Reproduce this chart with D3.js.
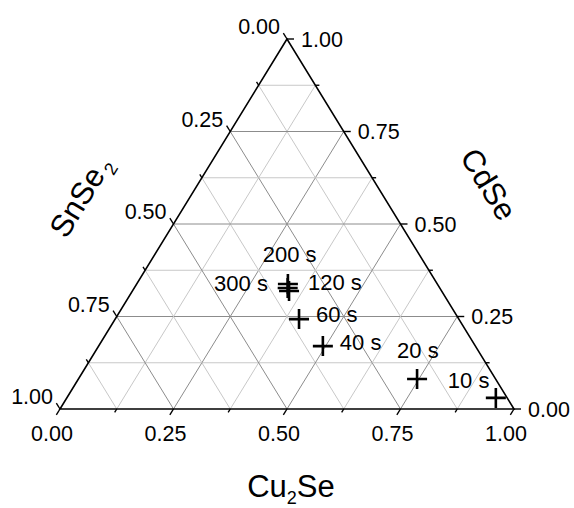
<!DOCTYPE html>
<html lang="en">
<head>
<meta charset="UTF-8">
<title>Ternary plot Cu2Se - CdSe - SnSe2</title>
<script src="https://d3js.org/d3.v7.min.js"></script>
<style>
    body { margin: 0; background: #fff; }
    text { font-family: Arial, "Liberation Sans", sans-serif; fill: #000; }
</style>
</head>
<body>
<svg width="574" height="508"></svg>
<script>
// sample labels (reaction time) and compositions (mole fractions)
const samples = ["10 s", "20 s", "40 s", "60 s", "120 s", "200 s", "300 s"];
const cu2se   = [0.945, 0.746, 0.494, 0.405, 0.345, 0.338, 0.333];
const cdse    = [0.030, 0.081, 0.170, 0.243, 0.319, 0.327, 0.338];
const snse2   = cu2se.map((a, i) => +(1 - a - cdse[i]).toFixed(3));

const tickValues = [0, 0.25, 0.5, 0.75, 1];
const gridValues = [0.125, 0.25, 0.375, 0.5, 0.625, 0.75, 0.875];

// label placement relative to each marker (dx, dy, anchor)
const labelPos = [
    [-48, -10, "start"], [-20, -21, "start"], [17, 4, "start"], [17, 3, "start"],
    [19, -1, "start"], [-25, -26, "start"], [-20, 7, "end"]
];

const svg = d3.select("svg");

// ternary projection: Cu2Se -> bottom right, CdSe -> top, SnSe2 -> bottom left
const xScale = d3.scaleLinear().domain([0, 1]).range([60, 514]);
const yScale = d3.scaleLinear().domain([0, 1]).range([409, 39]);
const px = (a, c) => [xScale(a + c / 2), yScale(c)];

const isMajor = v => Math.abs(v * 4 - Math.round(v * 4)) < 1e-6;
const gridColor = v => isMajor(v) ? "#8c8c8c" : "#c8c8c8";

// grid
const grid = svg.append("g");
gridValues.forEach(v => {
    const lines = [
        [px(v, 0), px(v, 1 - v)],          // constant Cu2Se
        [px(0, v), px(1 - v, v)],          // constant CdSe
        [px(1 - v, 0), px(0, 1 - v)]       // constant SnSe2
    ];
    lines.forEach(l => {
        grid.append("line")
            .attr("x1", l[0][0]).attr("y1", l[0][1])
            .attr("x2", l[1][0]).attr("y2", l[1][1])
            .attr("stroke", gridColor(v))
            .attr("stroke-width", 1);
    });
});

// triangle outline
const T = px(0, 1), BL = px(0, 0), BR = px(1, 0);
svg.append("path")
    .attr("d", d3.line()([T, BL, BR, T]) + "Z")
    .attr("fill", "none")
    .attr("stroke", "#000")
    .attr("stroke-width", 1.6)
    .attr("stroke-linejoin", "miter");

// tick directions
const unit = (p, q) => {
    const dx = q[0] - p[0], dy = q[1] - p[1], n = Math.hypot(dx, dy);
    return [dx / n, dy / n];
};
const dirBottom = unit(T, BL);   // down-left
const dirLeft = unit(BR, T);     // up-left
const dirRight = [1, 0];

const allTicks = [0, 0.125, 0.25, 0.375, 0.5, 0.625, 0.75, 0.875, 1];
const axes = svg.append("g");

function tick(p, dir, len) {
    axes.append("line")
        .attr("x1", p[0]).attr("y1", p[1])
        .attr("x2", p[0] + dir[0] * len).attr("y2", p[1] + dir[1] * len)
        .attr("stroke", "#000").attr("stroke-width", 1.4);
}

allTicks.forEach(v => {
    const len = isMajor(v) ? 7 : 4;
    tick(px(v, 0), dirBottom, len);          // Cu2Se
    tick(px(1 - v, v), dirRight, len);       // CdSe
    tick(px(0, 1 - v), dirLeft, len);        // SnSe2
});

const fmt = d3.format(".2f");
tickValues.forEach(v => {
    const b = px(v, 0);
    axes.append("text")
        .attr("x", b[0] - 8).attr("y", b[1] + 32)
        .attr("text-anchor", "middle")
        .attr("font-size", 21.5)
        .text(fmt(v));
    const r = px(1 - v, v);
    axes.append("text")
        .attr("x", r[0] + 14).attr("y", r[1] + 7.5)
        .attr("text-anchor", "start")
        .attr("font-size", 21.5)
        .text(fmt(v));
    const l = px(0, 1 - v);
    axes.append("text")
        .attr("x", l[0] - 7).attr("y", l[1] - 5)
        .attr("text-anchor", "end")
        .attr("font-size", 21.5)
        .text(fmt(v));
});

// axis titles
const cu = svg.append("text")
    .attr("x", 291).attr("y", 497)
    .attr("text-anchor", "middle")
    .attr("font-size", 31);
cu.append("tspan").text("Cu");
cu.append("tspan").attr("font-size", 18).attr("dy", 7).text("2");
cu.append("tspan").attr("dy", -7).text("Se");

const angle = Math.atan2(BR[1] - T[1], BR[0] - T[0]) * 180 / Math.PI;

svg.append("text")
    .attr("transform", `translate(489,184) rotate(${angle})`)
    .attr("text-anchor", "middle")
    .attr("dy", "0.36em")
    .attr("font-size", 31)
    .text("CdSe");

const sn = svg.append("text")
    .attr("transform", `translate(80,196) rotate(${-angle})`)
    .attr("text-anchor", "middle")
    .attr("dy", "0.36em")
    .attr("font-size", 31);
sn.append("tspan").text("SnSe");
sn.append("tspan").attr("font-size", 18).attr("dy", 7).attr("dx", 3).text("2");

// data markers
const pts = samples.map((s, i) => ({ name: s, a: cu2se[i], c: cdse[i], s: snse2[i], lp: labelPos[i] }));

const marks = svg.append("g");
marks.selectAll("path")
    .data(pts)
    .enter()
    .append("path")
    .attr("transform", d => `translate(${px(d.a, d.c)})`)
    .attr("d", "M-10,0H10M0,-10V10")
    .attr("stroke", "#000")
    .attr("stroke-width", 2.6)
    .attr("fill", "none");

marks.selectAll("text")
    .data(pts)
    .enter()
    .append("text")
    .attr("x", d => px(d.a, d.c)[0] + d.lp[0])
    .attr("y", d => px(d.a, d.c)[1] + d.lp[1])
    .attr("text-anchor", d => d.lp[2])
    .attr("font-size", 22)
    .text(d => d.name);
</script>
</body>
</html>
